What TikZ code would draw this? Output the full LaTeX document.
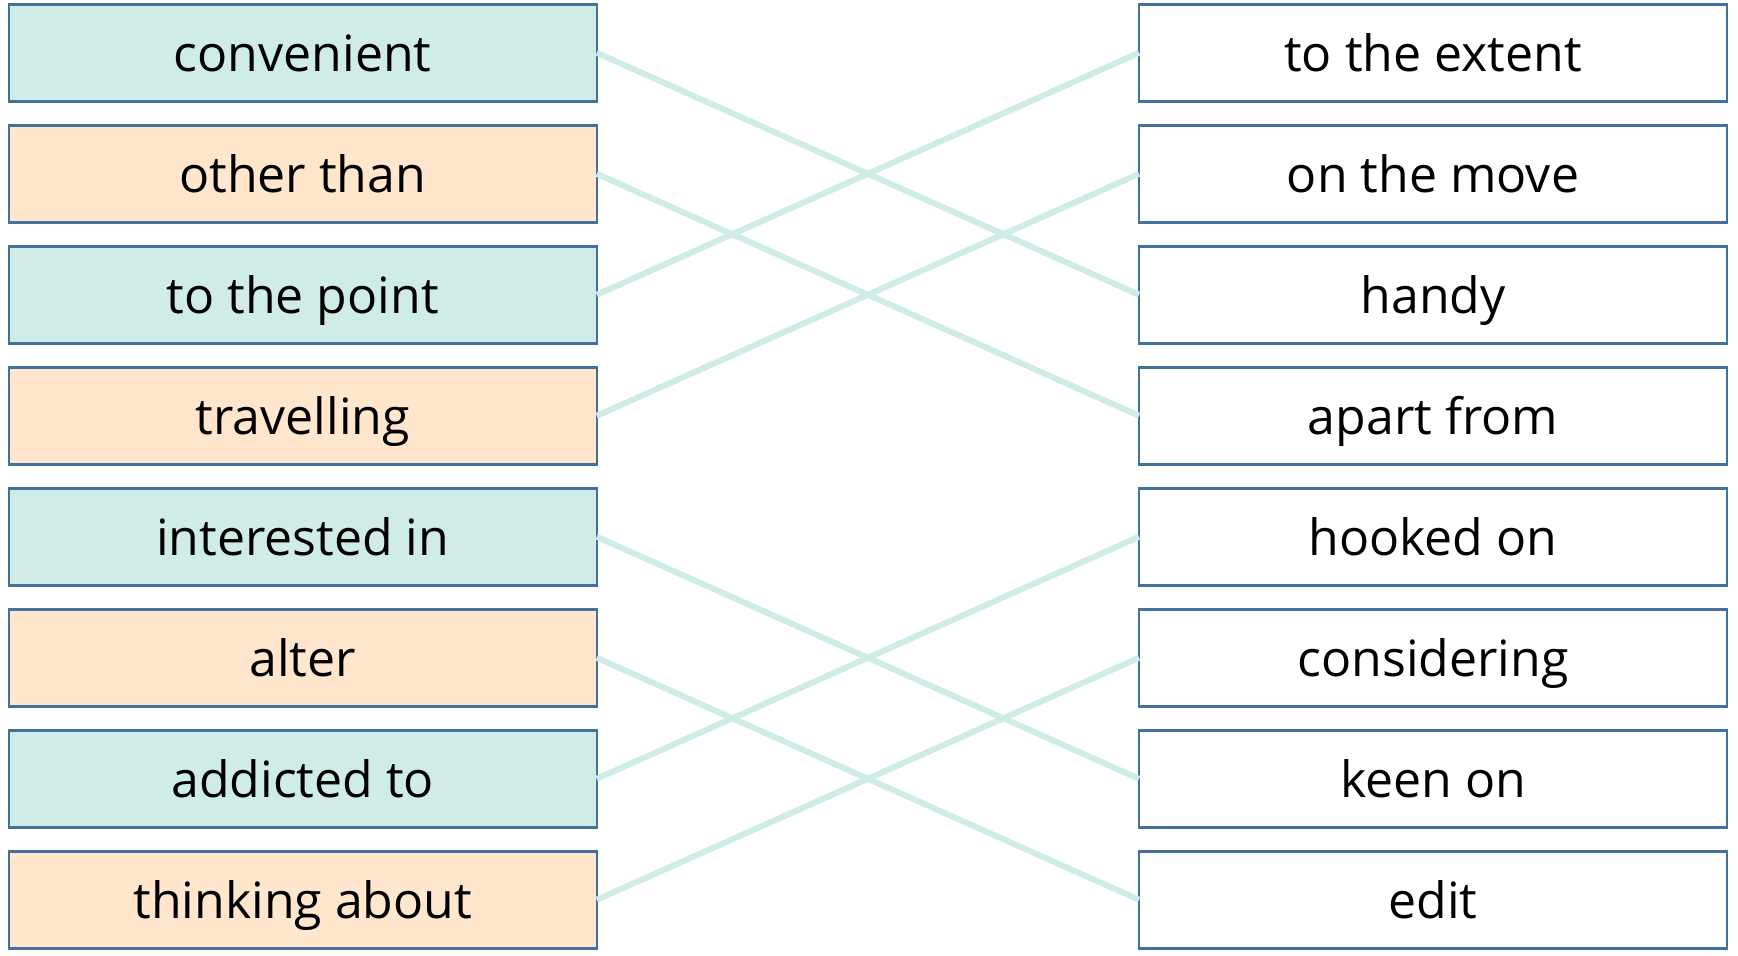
\documentclass[tikz,border=0pt]{standalone}
\usepackage{fontspec}
\setmainfont{Open Sans}

\definecolor{boxline}{HTML}{41719C}
\definecolor{tealfill}{HTML}{CFECE6}
\definecolor{peachfill}{HTML}{FFE6CC}

\tikzset{
  word/.style = {draw = boxline, line width = 1.25pt, inner sep = 0pt, outer sep = 0pt,
    minimum width = 294pt, minimum height = 48.5pt, text height = 21pt, text depth = 2pt,
    font = \fontsize{25}{30}\selectfont},
  tealbox/.style = {word, fill = tealfill},
  peachbox/.style = {word, fill = peachfill},
  plainbox/.style = {word, fill = white},
  match/.style = {draw = tealfill, line width = 3pt}
}

\begin{document}
\begin{tikzpicture}[x = 0.5pt, y = -0.5pt]
\useasboundingbox (0,0) rectangle (1738,955);

% left column
\node[tealbox]  (L1) at (302.75, 52.75) {convenient};
\node[peachbox] (L2) at (302.75, 173.75) {other than};
\node[tealbox]  (L3) at (302.75, 294.75) {to the point};
\node[peachbox] (L4) at (302.75, 415.75) {travelling};
\node[tealbox]  (L5) at (302.75, 536.75) {interested in};
\node[peachbox] (L6) at (302.75, 657.75) {alter};
\node[tealbox]  (L7) at (302.75, 778.75) {addicted to};
\node[peachbox] (L8) at (302.75, 899.75) {thinking about};

% right column
\node[plainbox] (R1) at (1433, 52.75) {to the extent};
\node[plainbox] (R2) at (1433, 173.75) {on the move};
\node[plainbox] (R3) at (1433, 294.75) {handy};
\node[plainbox] (R4) at (1433, 415.75) {apart from};
\node[plainbox] (R5) at (1433, 536.75) {hooked on};
\node[plainbox] (R6) at (1433, 657.75) {considering};
\node[plainbox] (R7) at (1433, 778.75) {keen on};
\node[plainbox] (R8) at (1433, 899.75) {edit};

% answers
\draw[match] (L1.east) -- (R3.west);
\draw[match] (L2.east) -- (R4.west);
\draw[match] (L3.east) -- (R1.west);
\draw[match] (L4.east) -- (R2.west);
\draw[match] (L5.east) -- (R7.west);
\draw[match] (L6.east) -- (R8.west);
\draw[match] (L7.east) -- (R5.west);
\draw[match] (L8.east) -- (R6.west);
\end{tikzpicture}
\end{document}
